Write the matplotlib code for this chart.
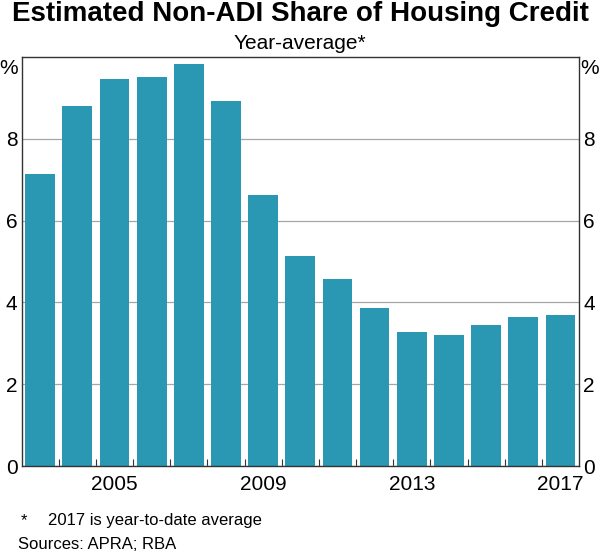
import numpy as np
import matplotlib.pyplot as plt
from matplotlib.ticker import FixedLocator

plt.rcParams['font.family'] = ['Liberation Sans', 'DejaVu Sans']

years = [2003, 2004, 2005, 2006, 2007, 2008, 2009, 2010, 2011, 2012, 2013, 2014, 2015, 2016, 2017]
share = [7.14, 8.80, 9.46, 9.51, 9.83, 8.92, 6.63, 5.13, 4.57, 3.86, 3.28, 3.20, 3.45, 3.64, 3.69]
year_labels = [2005, 2009, 2013, 2017]
y_ticks = [0, 2, 4, 6, 8]

bar_colour = '#2a97b3'
tick_size = 15

fig = plt.figure(figsize=(6.0, 5.53), dpi=100)
ax = fig.add_axes([0.036, 0.157, 0.929, 0.740])

ax.bar(years, share, width=0.8, color=bar_colour, zorder=2)

ax.set_xlim(years[0] - 0.5, years[-1] + 0.5)
ax.set_ylim(0, 10)

# gridlines only, labels both sides
ax.set_yticks(y_ticks)
ax.yaxis.grid(True, color='#a6a6a6', linewidth=0.9, zorder=0)
ax.tick_params(axis='y', which='both', length=0, labelsize=tick_size, pad=3,
               left=False, right=False, labelleft=True, labelright=True)

# year labels under bar centres, small ticks on year boundaries
ax.set_xticks(year_labels)
ax.xaxis.set_minor_locator(FixedLocator(np.arange(years[0] + 0.5, years[-1], 1.0)))
ax.tick_params(axis='x', which='major', length=0, labelsize=tick_size, pad=6)
ax.tick_params(axis='x', which='minor', direction='in', length=5, width=0.8, color='#333333')

for s in ax.spines.values():
    s.set_color('#333333')
    s.set_linewidth(1.0)

ax.text(-0.007, 0.995, '%', transform=ax.transAxes, ha='right', va='top', fontsize=tick_size)
ax.text(1.003, 0.995, '%', transform=ax.transAxes, ha='left', va='top', fontsize=tick_size)

fig.text(0.5, 0.975, 'Estimated Non-ADI Share of Housing Credit', ha='center', va='center',
         fontsize=20, fontweight='bold')
fig.text(0.5, 0.922, 'Year-average*', ha='center', va='center', fontsize=15)

fig.text(0.034, 0.058, '*', ha='left', va='center', fontsize=12)
fig.text(0.08, 0.058, '2017 is year-to-date average', ha='left', va='center', fontsize=12)
fig.text(0.03, 0.015, 'Sources: APRA; RBA', ha='left', va='center', fontsize=12)

fig.savefig('out.png', dpi=100)
